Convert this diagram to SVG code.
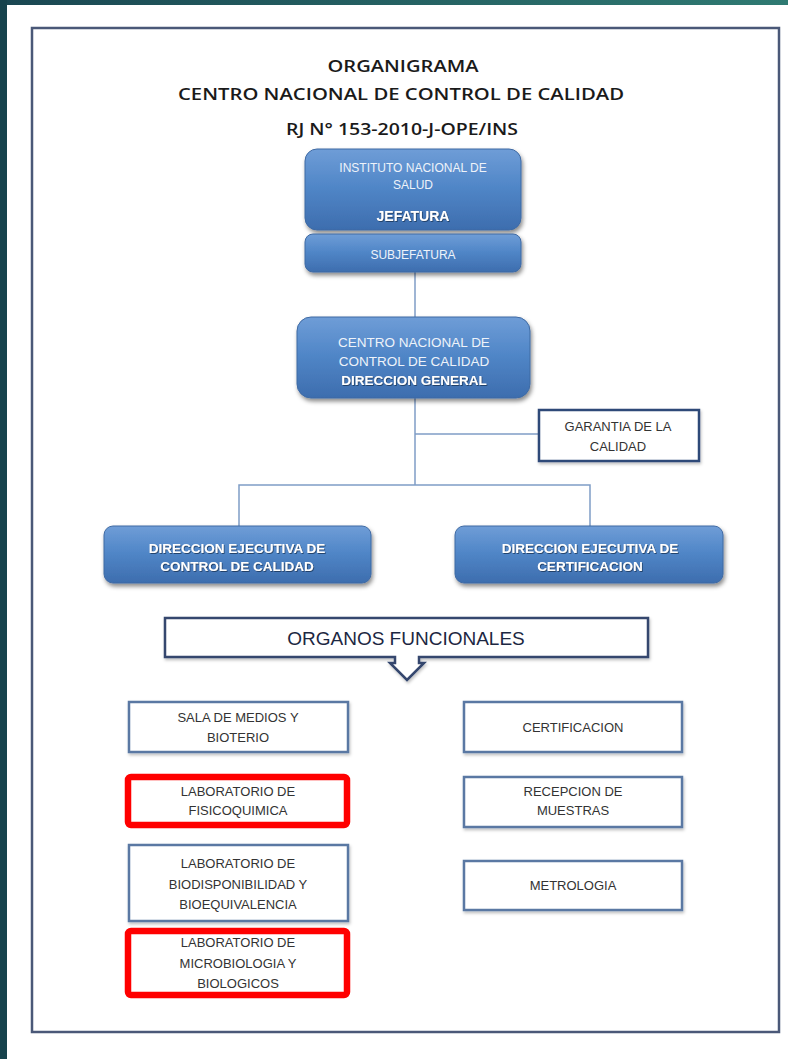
<svg xmlns="http://www.w3.org/2000/svg" width="788" height="1059" viewBox="0 0 788 1059">
<defs>
<linearGradient id="topband" x1="0" y1="0" x2="1" y2="0">
<stop offset="0" stop-color="#1a4752"/>
<stop offset="1" stop-color="#2f7a72"/>
</linearGradient>
<linearGradient id="blue" x1="0" y1="0" x2="0" y2="1">
<stop offset="0" stop-color="#6f9dd7"/>
<stop offset="0.45" stop-color="#5187c8"/>
<stop offset="1" stop-color="#3d6dae"/>
</linearGradient>
<filter id="sh" x="-10%" y="-10%" width="130%" height="140%">
<feDropShadow dx="1.5" dy="3" stdDeviation="2" flood-color="#000" flood-opacity="0.45"/>
</filter>
<filter id="sh2" x="-10%" y="-10%" width="130%" height="140%">
<feDropShadow dx="1" dy="2" stdDeviation="1.5" flood-color="#000" flood-opacity="0.25"/>
</filter>
<filter id="ts" x="-5%" y="-20%" width="110%" height="150%">
<feDropShadow dx="0.8" dy="1" stdDeviation="0.6" flood-color="#1d3557" flood-opacity="0.8"/>
</filter>
</defs>
<style>
.title{font-family:"Open Sans","Liberation Sans",sans-serif;font-weight:600;font-size:17px;fill:#1a1a1a;text-anchor:middle}
.bbox{fill:url(#blue);stroke:#3f6aa3;stroke-width:1;filter:url(#sh)}
.bt{font-family:"Liberation Sans",Arial,sans-serif;font-size:12px;fill:#eef3fa;text-anchor:middle}
.bt2{font-family:"Liberation Sans",Arial,sans-serif;font-size:13.5px;fill:#eef3fa;text-anchor:middle}
.bb{font-family:"Liberation Sans",Arial,sans-serif;font-weight:bold;font-size:14px;fill:#fff;text-anchor:middle;filter:url(#ts)}
.wbox{fill:#fff;stroke:#5a78a3;stroke-width:2.5;filter:url(#sh2)}
.dbox{fill:#fff;stroke:#2f4a78;stroke-width:2.5;filter:url(#sh2)}
.rbox{fill:#fff;stroke:#ff0000;stroke-width:6.5}
.wt{font-family:"Liberation Sans",Arial,sans-serif;font-size:13px;fill:#333;text-anchor:middle}
.conn{stroke:#7f9dc6;stroke-width:1.5;fill:none}
</style>
<rect x="0" y="0" width="788" height="1059" fill="#fff"/>
<rect x="0" y="0" width="788" height="5" fill="url(#topband)"/>
<rect x="0" y="0" width="7" height="1059" fill="#17434d"/>
<rect x="32" y="28" width="747" height="1004" fill="#fff" stroke="#4a5878" stroke-width="2.5"/>

<g id="titles">
<text class="title" x="403" y="72" textLength="151" lengthAdjust="spacingAndGlyphs">ORGANIGRAMA</text>
<text class="title" x="401" y="100" textLength="446" lengthAdjust="spacingAndGlyphs">CENTRO NACIONAL DE CONTROL DE CALIDAD</text>
<text class="title" x="402" y="135" textLength="232" lengthAdjust="spacingAndGlyphs">RJ N° 153-2010-J-OPE/INS</text>
</g>

<g id="connectors">
<line class="conn" x1="415" y1="272" x2="415" y2="317"/>
<line class="conn" x1="415" y1="398" x2="415" y2="485"/>
<line class="conn" x1="415" y1="434" x2="538" y2="434"/>
<polyline class="conn" points="239,527 239,485 590,485 590,527"/>
</g>

<g id="jefatura">
<rect class="bbox" x="305" y="149" width="216" height="81" rx="12"/>
<text class="bt" x="413" y="172">INSTITUTO NACIONAL DE</text>
<text class="bt" x="413" y="189">SALUD</text>
<text class="bb" x="413" y="221">JEFATURA</text>
</g>
<g id="subjefatura">
<rect class="bbox" x="305" y="234" width="216" height="38" rx="8"/>
<text class="bt" x="413" y="259">SUBJEFATURA</text>
</g>
<g id="direccion-general">
<rect class="bbox" x="297" y="317" width="233" height="81" rx="14"/>
<text class="bt2" x="414" y="347">CENTRO NACIONAL DE</text>
<text class="bt2" x="414" y="366">CONTROL DE CALIDAD</text>
<text class="bb" x="414" y="385" style="font-size:13.5px">DIRECCION GENERAL</text>
</g>
<g id="garantia">
<rect class="dbox" x="539" y="410" width="160" height="51"/>
<text class="wt" x="618" y="431">GARANTIA DE LA</text>
<text class="wt" x="618" y="451">CALIDAD</text>
</g>
<g id="dej-control">
<rect class="bbox" x="104" y="526" width="267" height="57" rx="9"/>
<text class="bb" x="237" y="553" style="font-size:13.5px">DIRECCION EJECUTIVA DE</text>
<text class="bb" x="237" y="571" style="font-size:13.5px">CONTROL DE CALIDAD</text>
</g>
<g id="dej-certificacion">
<rect class="bbox" x="455" y="526" width="268" height="57" rx="9"/>
<text class="bb" x="590" y="553" style="font-size:13.5px">DIRECCION EJECUTIVA DE</text>
<text class="bb" x="590" y="571" style="font-size:13.5px">CERTIFICACION</text>
</g>
<g id="organos-funcionales">
<path d="M165,618 H648 V657 H419 V663 H424 L407,680 L390,663 H395 V657 H165 Z" fill="#fff" stroke="#34466e" stroke-width="2.5" stroke-linejoin="miter" filter="url(#sh2)"/>
<text x="406" y="645" font-family="'Liberation Sans',Arial,sans-serif" font-size="19" fill="#1c2742" text-anchor="middle">ORGANOS FUNCIONALES</text>
</g>

<g id="sala-medios">
<rect class="wbox" x="129" y="702" width="219" height="50"/>
<text class="wt" x="238" y="722">SALA DE MEDIOS Y</text>
<text class="wt" x="238" y="742">BIOTERIO</text>
</g>
<g id="lab-fisicoquimica">
<rect class="rbox" x="128" y="777" width="219" height="48" rx="3"/>
<text class="wt" x="238" y="796">LABORATORIO DE</text>
<text class="wt" x="238" y="815">FISICOQUIMICA</text>
</g>
<g id="lab-biodisponibilidad">
<rect class="wbox" x="129" y="845" width="219" height="76"/>
<text class="wt" x="238" y="868">LABORATORIO DE</text>
<text class="wt" x="238" y="889">BIODISPONIBILIDAD Y</text>
<text class="wt" x="238" y="909">BIOEQUIVALENCIA</text>
</g>
<g id="lab-microbiologia">
<rect class="rbox" x="128" y="931" width="219" height="64" rx="3"/>
<text class="wt" x="238" y="947">LABORATORIO DE</text>
<text class="wt" x="238" y="968">MICROBIOLOGIA Y</text>
<text class="wt" x="238" y="988">BIOLOGICOS</text>
</g>
<g id="certificacion">
<rect class="wbox" x="464" y="702" width="218" height="50"/>
<text class="wt" x="573" y="732">CERTIFICACION</text>
</g>
<g id="recepcion-muestras">
<rect class="wbox" x="464" y="777" width="218" height="50"/>
<text class="wt" x="573" y="796">RECEPCION DE</text>
<text class="wt" x="573" y="815">MUESTRAS</text>
</g>
<g id="metrologia">
<rect class="wbox" x="464" y="861" width="218" height="49"/>
<text class="wt" x="573" y="890">METROLOGIA</text>
</g>
</svg>
